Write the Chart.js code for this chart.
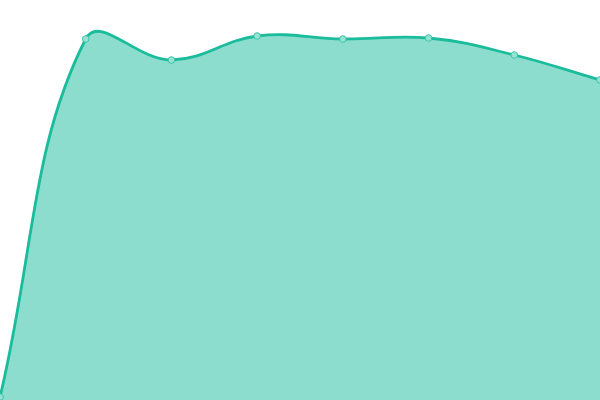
<!DOCTYPE html>
<html>
<head>
<meta charset="utf-8">
<script src="https://cdn.jsdelivr.net/npm/chart.js@4"></script>
<style>
  html, body { margin: 0; padding: 0; background: #fff; }
  #wrap { width: 600px; height: 400px; }
</style>
</head>
<body>
<div id="wrap"><canvas id="chart"></canvas></div>
<script>
const labels = ["1", "2", "3", "4", "5", "6", "7", "8"];
const values = [3, 361, 340, 364, 361, 362, 345, 320];

const lineColor = "#1abc9c";
const fillColor = "rgba(26, 188, 156, 0.5)";

const ctx = document.getElementById("chart").getContext("2d");

new Chart(ctx, {
  type: "line",
  data: {
    labels,
    datasets: [
      {
        data: values,
        borderColor: lineColor,
        backgroundColor: fillColor,
        borderWidth: 2.8,
        fill: "origin",
        tension: 0.4,
        pointRadius: 3.3,
        pointBorderWidth: 1,
        pointBackgroundColor: "#95e3d3",
        pointBorderColor: "#3cc4a8",
      },
    ],
  },
  options: {
    responsive: true,
    maintainAspectRatio: false,
    animation: false,
    layout: { padding: 0, autoPadding: false },
    scales: {
      x: { display: false, offset: false },
      y: { display: false, min: 0, max: 400 },
    },
    plugins: {
      legend: { display: false },
      tooltip: { enabled: false },
    },
  },
});
</script>
</body>
</html>
